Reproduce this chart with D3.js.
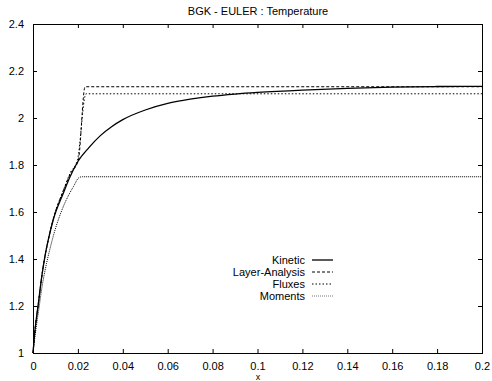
<!DOCTYPE html>
<meta charset="utf-8">
<style>
body { margin: 0; background: #fff; }
text { font-family: "Liberation Sans", Arial, sans-serif; font-size: 11px; fill: #000; }
.frame { fill: none; stroke: #000; stroke-width: 1px; }
.curve { fill: none; stroke: #000; }
</style>
<svg width="492" height="381"></svg>
<script src="https://d3js.org/d3.v7.min.js"></script>
<script>

var xTicks = [0, 0.02, 0.04, 0.06, 0.08, 0.1, 0.12, 0.14, 0.16, 0.18, 0.2],
    yTicks = [1, 1.2, 1.4, 1.6, 1.8, 2, 2.2, 2.4];

var kinetic = [[0,1],[0.0009,1.098],[0.0024,1.211],[0.0039,1.325],[0.0053,1.41],[0.0068,1.481],
  [0.009,1.566],[0.0135,1.68],[0.0165,1.75],[0.02,1.815],[0.025,1.875],[0.03,1.925],
  [0.035,1.963],[0.04,1.993],[0.05,2.034],[0.06,2.062],[0.07,2.08],[0.08,2.093],[0.09,2.102],
  [0.1,2.109],[0.12,2.119],[0.14,2.126],[0.16,2.131],[0.18,2.134],[0.2,2.135]];

var layer = [[0,1],[0.0009,1.098],[0.0024,1.211],[0.0039,1.325],[0.0053,1.41],[0.0068,1.481],
  [0.009,1.57],[0.0135,1.69],[0.0165,1.76],[0.0202,1.821],[0.0232,2.133],[0.2,2.133]];

var fluxes = [[0,1],[0.0009,1.098],[0.0024,1.211],[0.0039,1.325],[0.0053,1.41],[0.0068,1.481],
  [0.009,1.57],[0.0135,1.692],[0.0165,1.765],[0.0198,1.822],[0.0236,2.103],[0.2,2.103]];

var moments = [[0,1],[0.001,1.08],[0.0025,1.18],[0.004,1.28],[0.006,1.38],[0.008,1.46],
  [0.0098,1.523],[0.0135,1.623],[0.018,1.708],[0.0206,1.747],[0.022,1.75],[0.2,1.75]];

var series = [
  {name: "Kinetic", data: kinetic, dash: null, color: "#000", w: 1.3},
  {name: "Layer-Analysis", data: layer, dash: "3,2", color: "#000", w: 1},
  {name: "Fluxes", data: fluxes, dash: "1.5,2", color: "#000", w: 1},
  {name: "Moments", data: moments, dash: "1,1", color: "#777", w: 1}
];

var svg = d3.select("svg"),
    mLeft = 33, mRight = 482, mTop = 24, mBottom = 353;

var x = d3.scaleLinear().domain([0, 0.2]).range([mLeft, mRight]),
    y = d3.scaleLinear().domain([1, 2.4]).range([mBottom, mTop]);

// ticks, gnuplot style (inside, mirrored)
svg.append("g").attr("transform", "translate(0," + mBottom + ")")
  .call(d3.axisBottom(x).tickValues(xTicks).tickSize(-4).tickPadding(9).tickFormat(function(d) { return +d.toFixed(2); }))
  .call(function(g) { g.select(".domain").remove(); g.selectAll("text").style("font-size", "11px").style("font-family", null); });
svg.append("g").attr("transform", "translate(0," + mTop + ")")
  .call(d3.axisTop(x).tickValues(xTicks).tickSize(-4).tickFormat(""))
  .call(function(g) { g.select(".domain").remove(); });
svg.append("g").attr("transform", "translate(" + mLeft + ",0)")
  .call(d3.axisLeft(y).tickValues(yTicks).tickSize(-4).tickPadding(9).tickFormat(function(d) { return +d.toFixed(1); }))
  .call(function(g) { g.select(".domain").remove(); g.selectAll("text").style("font-size", "11px").style("font-family", null); });
svg.append("g").attr("transform", "translate(" + mRight + ",0)")
  .call(d3.axisRight(y).tickValues(yTicks).tickSize(-4).tickFormat(""))
  .call(function(g) { g.select(".domain").remove(); });

svg.append("rect").attr("class", "frame")
  .attr("x", mLeft + 0.5).attr("y", mTop + 0.5)
  .attr("width", mRight - mLeft).attr("height", mBottom - mTop);

var line = d3.line().x(function(d) { return x(d[0]); }).y(function(d) { return y(d[1]); })
  .curve(d3.curveMonotoneX);

svg.selectAll(".curve").data(series.slice().reverse()).enter().append("path")
  .attr("class", "curve")
  .attr("d", function(d) { return line(d.data); })
  .attr("stroke", function(d) { return d.color; })
  .attr("stroke-width", function(d) { return d.w; })
  .attr("stroke-dasharray", function(d) { return d.dash; });

// legend
var leg = svg.append("g").selectAll("g").data(series).enter().append("g")
  .attr("transform", function(d, i) { return "translate(0," + (260 + i * 12) + ")"; });
leg.append("text").attr("x", 305).attr("y", 4).attr("text-anchor", "end").text(function(d) { return d.name; });
leg.append("line").attr("x1", 312).attr("x2", 333).attr("y1", 0).attr("y2", 0)
  .attr("stroke", function(d) { return d.color; })
  .attr("stroke-width", function(d) { return d.w; })
  .attr("stroke-dasharray", function(d) { return d.dash; });

svg.append("text").attr("x", 258).attr("y", 15).attr("text-anchor", "middle").text("BGK - EULER : Temperature");
svg.append("text").attr("x", 258).attr("y", 380).attr("text-anchor", "middle").style("font-size", "9px").text("x");

</script>
